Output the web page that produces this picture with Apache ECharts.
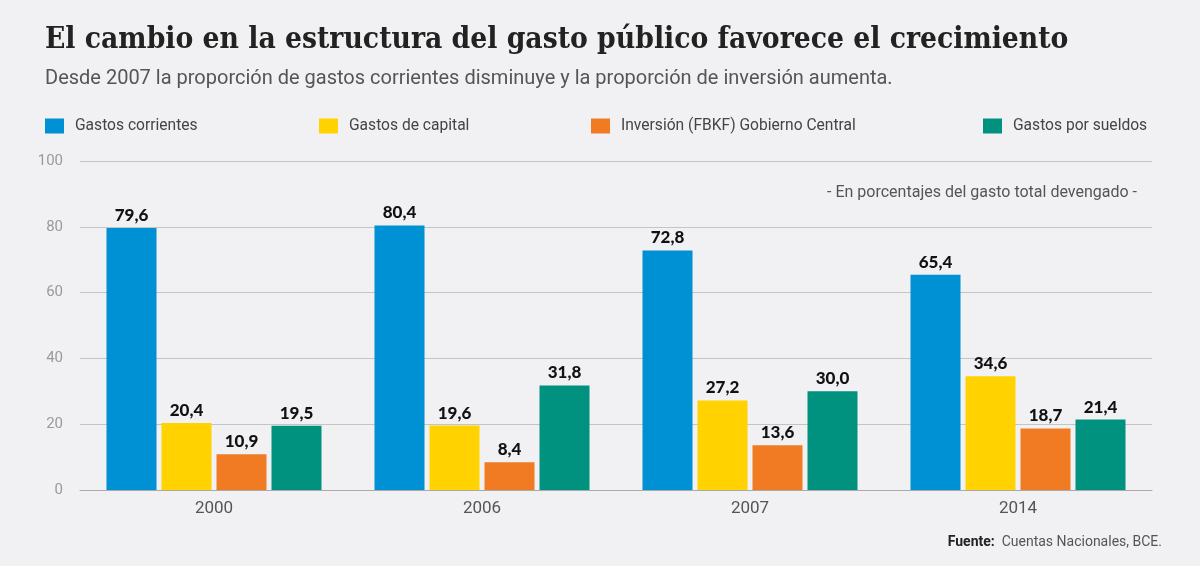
<!DOCTYPE html>
<html>
<head>
<meta charset="utf-8">
<script src="https://cdn.jsdelivr.net/npm/echarts@6/dist/echarts.min.js"></script>
<style>
  html, body { margin: 0; padding: 0; background: #f1f1f3; }
  #chart { width: 1200px; height: 566px; }
</style>
</head>
<body>
<div id="chart"></div>
<script>
// datos
const years = ['2000', '2006', '2007', '2014']
const gastosCorrientes = [79.6, 80.4, 72.8, 65.4]
const gastosCapital = [20.4, 19.6, 27.2, 34.6]
const inversion = [10.9, 8.4, 13.6, 18.7]
const gastosSueldos = [19.5, 31.8, 30.0, 21.4]

const seriesNames = ['Gastos corrientes', 'Gastos de capital', 'Inversión (FBKF) Gobierno Central', 'Gastos por sueldos']
const colors = ['#0090d4', '#ffd200', '#f07b22', '#00917f']
const legendLeft = [40, 314, 586, 978]

const narrow = 'Roboto, sans-serif'

const chart = echarts.init(document.getElementById('chart'))

const makeSeries = (name, data, i) => ({
  name: name,
  type: 'bar',
  data: data,
  barWidth: 50,
  barGap: '10%',
  itemStyle: { color: colors[i] },
  label: {
    show: true,
    position: 'top',
    distance: 4,
    color: '#111',
    fontSize: 17,
    fontWeight: 900,
    fontFamily: 'Lato, sans-serif',
    formatter: p => p.value.toFixed(1).replace('.', ',')
  }
})

const option = {
  backgroundColor: '#f1f1f3',
  title: [
    {
      text: 'El cambio en la estructura del gasto público favorece el crecimiento',
      left: 40, top: 20,
      textStyle: { fontFamily: '"DejaVu Serif Condensed", "DejaVu Serif", serif', fontWeight: 'bold', fontSize: 29.7, color: '#222' }
    },
    {
      text: 'Desde 2007 la proporción de gastos corrientes disminuye y la proporción de inversión aumenta.',
      left: 40, top: 64,
      textStyle: { fontFamily: narrow, fontWeight: 'normal', fontSize: 20, color: '#555' }
    },
    {
      text: '- En porcentajes del gasto total devengado -',
      right: 58, top: 180,
      textStyle: { fontFamily: narrow, fontWeight: 'normal', fontSize: 16, color: '#555' }
    },
    {
      text: '{b|Fuente:}  Cuentas Nacionales, BCE.',
      right: 33, top: 530,
      textStyle: {
        fontFamily: narrow, fontWeight: 'normal', fontSize: 14, color: '#555',
        rich: { b: { fontFamily: narrow, fontWeight: 'bold', fontSize: 14, color: '#222' } }
      }
    }
  ],
  legend: seriesNames.map((name, i) => ({
    data: [name],
    left: legendLeft[i],
    top: 113,
    icon: 'rect',
    itemWidth: 19,
    itemHeight: 15,
    itemGap: 10,
    textStyle: { fontFamily: narrow, fontSize: 15.6, color: '#444', padding: [0, 0, 0, 6] }
  })),
  grid: { left: 80, right: 48, top: 161, bottom: 76 },
  xAxis: {
    type: 'category',
    data: years,
    axisLine: { lineStyle: { color: '#aaa' } },
    axisTick: { show: false },
    axisLabel: { color: '#555', fontSize: 17, fontFamily: narrow, margin: 10 }
  },
  yAxis: {
    type: 'value',
    min: 0,
    max: 100,
    interval: 20,
    axisLine: { show: false },
    axisTick: { show: false },
    axisLabel: { color: '#9a9a9a', fontSize: 15, fontFamily: narrow, margin: 17 },
    splitLine: { lineStyle: { color: '#c4c4c4', width: 1 } }
  },
  series: [
    makeSeries(seriesNames[0], gastosCorrientes, 0),
    makeSeries(seriesNames[1], gastosCapital, 1),
    makeSeries(seriesNames[2], inversion, 2),
    makeSeries(seriesNames[3], gastosSueldos, 3)
  ]
}

chart.setOption(option)
</script>
</body>
</html>
